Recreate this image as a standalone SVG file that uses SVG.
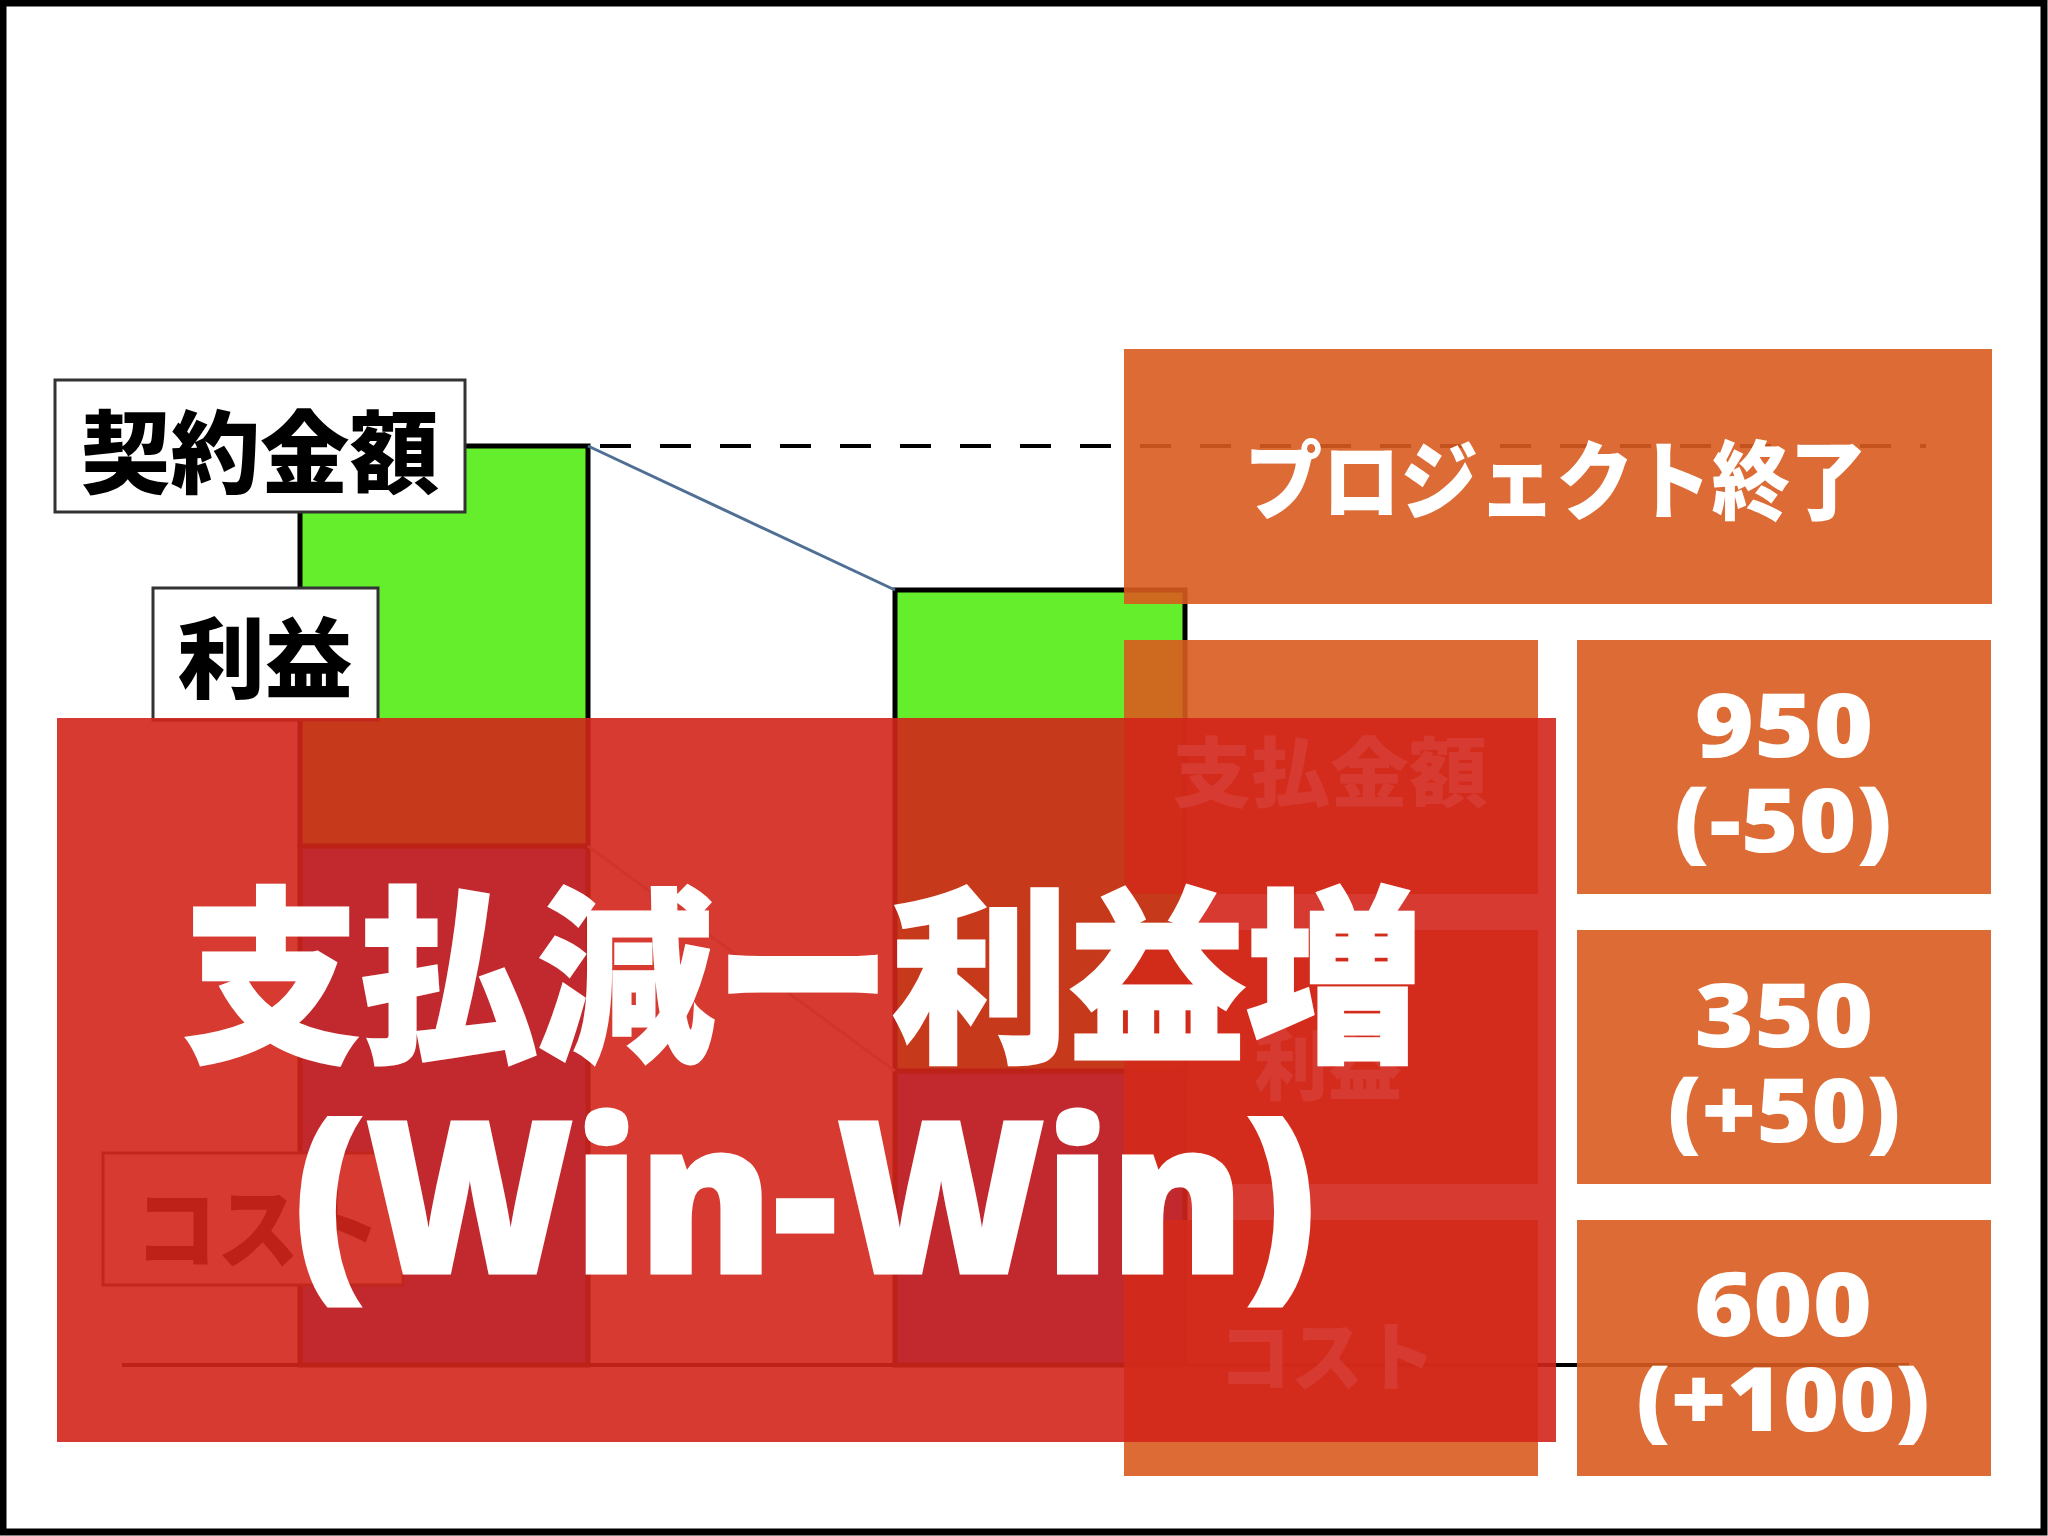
<svg xmlns="http://www.w3.org/2000/svg" width="2048" height="1536" viewBox="0 0 2048 1536">
  <style>
    .jp { font-family: "Noto Sans CJK JP", "Noto Sans CJK SC", sans-serif; font-weight: 900; }
    .num { font-family: "Open Sans", "Liberation Sans", sans-serif; font-weight: 800; fill: #ffffff; text-anchor: middle; }
    .label { fill: #ffffff; stroke: #333333; stroke-width: 3; }
    .labeltext { fill: #000000; text-anchor: middle; }
    .green { fill: #64ee2c; stroke: #000000; stroke-width: 5; }
    .cost { fill: #2850e6; stroke: #000000; stroke-width: 5; }
    .orange { fill: #d85b1f; opacity: 0.9; }
    .otext { fill: #ffffff; text-anchor: middle; }
    .title { fill: #ffffff; stroke: #ffffff; stroke-width: 3; text-anchor: middle; }
  </style>

  <rect id="frame" x="3" y="3" width="2041" height="1529" fill="#ffffff" stroke="#000000" stroke-width="7"/>

  <g id="bar-before">
    <rect class="cost" x="300" y="846" width="288" height="519"/>
    <rect class="green" x="300" y="446" width="288" height="400"/>
  </g>
  <g id="bar-after">
    <rect class="cost" x="895" y="1071" width="290" height="294"/>
    <rect class="green" x="895" y="590" width="290" height="481"/>
  </g>

  <g id="connectors" fill="none">
    <line x1="122" y1="1365" x2="1909" y2="1365" stroke="#000000" stroke-width="4"/>
    <line x1="600" y1="446" x2="1926" y2="446" stroke="#000000" stroke-width="4" stroke-dasharray="31 29"/>
    <line x1="588" y1="446" x2="895" y2="590" stroke="#4f6f94" stroke-width="3"/>
    <line x1="588" y1="846" x2="895" y2="1071" stroke="#b8c8dc" stroke-width="3"/>
  </g>

  <g id="label-contract">
    <rect class="label" x="55" y="380" width="410" height="132"/>
    <text class="jp labeltext" x="260" y="486" font-size="90" textLength="358" lengthAdjust="spacingAndGlyphs">契約金額</text>
  </g>
  <g id="label-profit">
    <rect class="label" x="153" y="588" width="225" height="132"/>
    <text class="jp labeltext" x="265" y="691" font-size="88" textLength="175" lengthAdjust="spacingAndGlyphs">利益</text>
  </g>
  <g id="label-cost">
    <rect class="label" x="103" y="1153" width="300" height="132"/>
    <text class="jp labeltext" x="258" y="1261" font-size="88" textLength="246" lengthAdjust="spacingAndGlyphs">コスト</text>
  </g>

  <g id="project-end">
    <rect class="orange" x="1124" y="349" width="868" height="255"/>
    <text class="jp otext" x="1556" y="513" font-size="86" textLength="623" lengthAdjust="spacingAndGlyphs">プロジェクト終了</text>
  </g>

  <g id="col-payment">
    <rect class="orange" x="1124" y="640" width="414" height="254"/>
    <text class="jp otext" x="1330" y="801" font-size="76" textLength="315" lengthAdjust="spacingAndGlyphs">支払金額</text>
  </g>
  <g id="col-profit">
    <rect class="orange" x="1124" y="930" width="414" height="254"/>
    <text class="jp otext" x="1328" y="1094" font-size="76" textLength="148" lengthAdjust="spacingAndGlyphs">利益</text>
  </g>
  <g id="col-cost">
    <rect class="orange" x="1124" y="1220" width="414" height="256"/>
    <text class="jp otext" x="1327" y="1385" font-size="76" textLength="217" lengthAdjust="spacingAndGlyphs">コスト</text>
  </g>

  <g id="val-payment">
    <rect class="orange" x="1577" y="640" width="414" height="254"/>
    <text class="num" x="1784" y="757" font-size="88" textLength="179" lengthAdjust="spacingAndGlyphs">950</text>
    <text class="num" x="1783" y="852" font-size="88" textLength="218" lengthAdjust="spacingAndGlyphs">(-50)</text>
  </g>
  <g id="val-profit">
    <rect class="orange" x="1577" y="930" width="414" height="254"/>
    <text class="num" x="1784" y="1047" font-size="88" textLength="179" lengthAdjust="spacingAndGlyphs">350</text>
    <text class="num" x="1784" y="1142" font-size="88" textLength="233" lengthAdjust="spacingAndGlyphs">(+50)</text>
  </g>
  <g id="val-cost">
    <rect class="orange" x="1577" y="1220" width="414" height="256"/>
    <text class="num" x="1783" y="1336" font-size="88" textLength="178" lengthAdjust="spacingAndGlyphs">600</text>
    <text class="num" x="1783" y="1431" font-size="88" textLength="294" lengthAdjust="spacingAndGlyphs">(+100)</text>
  </g>

  <g id="banner">
    <rect x="57" y="718" width="1499" height="724" fill="#d1251a" opacity="0.9"/>
    <text class="jp title" x="803" y="1046" font-size="188" textLength="1240" lengthAdjust="spacingAndGlyphs">支払減ー利益増</text>
    <text class="title" x="805" y="1273" font-family="Open Sans, Liberation Sans, sans-serif" font-weight="800" font-size="212" textLength="1023" lengthAdjust="spacingAndGlyphs">(Win-Win)</text>
  </g>
</svg>
